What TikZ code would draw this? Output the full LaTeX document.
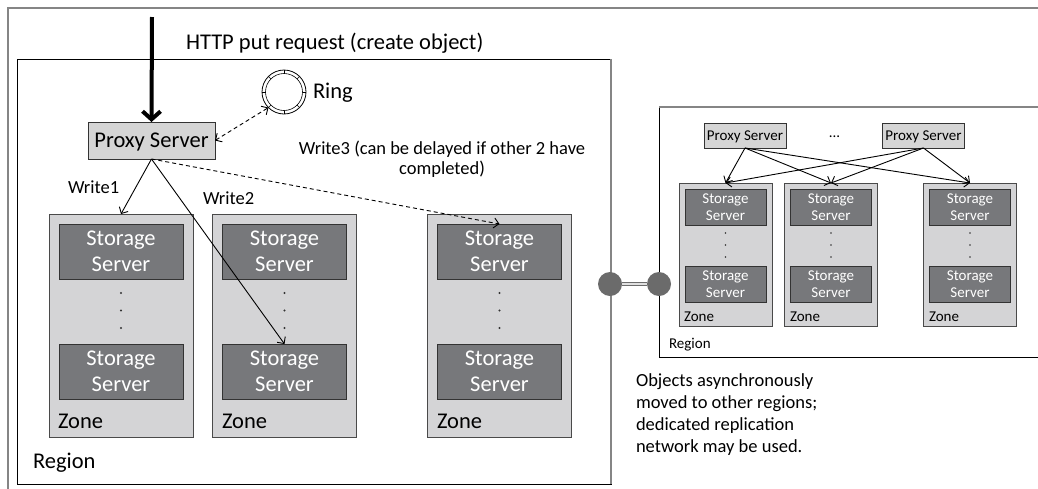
\documentclass[tikz,border=0pt]{standalone}
\usepackage{fontspec}
\setmainfont{Carlito}
\usetikzlibrary{arrows.meta,calc}
\definecolor{zonefill}{HTML}{D4D4D6}
\definecolor{zoneedge}{HTML}{4A4A4A}
\definecolor{storefill}{HTML}{77787B}
\definecolor{storeedge}{HTML}{333333}
\definecolor{proxyfill}{HTML}{D5D5D5}
\definecolor{framegray}{HTML}{858585}
\definecolor{linkgray}{HTML}{6B6B6B}
\newcommand{\bigtxt}{\fontsize{22.5}{26}\selectfont}
\newcommand{\midtxt}{\fontsize{18.5}{19.5}\selectfont}
\newcommand{\objtxt}{\fontsize{18.5}{22}\selectfont}
\newcommand{\smalltxt}{\fontsize{15}{17}\selectfont}
\tikzset{
  every node/.style={inner sep=0pt, outer sep=0pt},
  zonebox/.style={draw=zoneedge, fill=zonefill, line width=1pt},
  storebig/.style={draw=storeedge, fill=storefill, line width=1pt, text=white, align=center,
    font=\bigtxt, minimum width=124pt, minimum height=55pt},
  storesmall/.style={draw=storeedge, fill=storefill, line width=1pt, text=white, align=center,
    font=\smalltxt, minimum width=81pt, minimum height=36pt},
  proxybig/.style={draw=storeedge, fill=proxyfill, line width=1pt, font=\bigtxt,
    minimum width=127pt, minimum height=37pt, text depth=0pt},
  proxysmall/.style={draw=storeedge, fill=proxyfill, line width=1pt, font=\smalltxt,
    minimum width=82pt, minimum height=25pt, text depth=0pt},
  thinarrow/.style={line width=0.9pt, -{Straight Barb[length=5pt,width=10pt]}},
  dasharrow/.style={line width=0.9pt, dash pattern=on 4pt off 3pt},
  linkdot/.style={circle, fill=linkgray, minimum size=24pt},
}
\begin{document}
\begin{tikzpicture}[x=1pt,y=-1pt]
\useasboundingbox (0,0) rectangle (1038,488);
\clip (0,0) rectangle (1038,488);
\fill[white] (0,0) rectangle (1038,488);

% outer frame
\draw[framegray, line width=2pt] (8,500) -- (8,8) -- (1050,8);

% left region
\node[draw=black, line width=0.9pt, minimum width=594pt, minimum height=425pt] (regA) at (314,271.5) {};
\draw[framegray, line width=1.8pt] (regA.north east) -- (regA.south east);
\node[font=\bigtxt, anchor=base west] (regAlbl) at (33,468) {Region};

% right region
\node[draw=black, line width=0.9pt, minimum width=411pt, minimum height=250pt] (regB) at (864.5,232) {};
\draw[framegray, line width=1.8pt] (regB.north west) -- (regB.north east);
\node[font=\smalltxt, anchor=base west] (regBlbl) at (669,348.3) {Region};

% HTTP request
\node[font=\bigtxt, anchor=base west] (httplbl) at (186,49.5) {HTTP put request (create object)};
\node[proxybig] (proxy) at (151.5,140.5) {Proxy Server};
\coordinate (httpstart) at (152,17);
\draw[line width=4pt, -{Straight Barb[length=8pt,width=18pt]}] (httpstart) -- (proxy.north);

% ring
\node[circle, draw, line width=0.8pt, minimum size=44pt] (ring) at (284,92) {};
\draw[line width=0.6pt] (ring.center) circle (18.5pt);
\foreach \a in {0,45,...,315}
  \draw[line width=0.5pt] ($(ring.center)+(\a:18.5pt)$) -- ($(ring.center)+(\a:22pt)$);
\node[font=\bigtxt, anchor=base west] (ringlbl) at (313,98) {Ring};
\draw[dasharrow, {Straight Barb[length=5pt,width=10pt]}-{Straight Barb[length=5pt,width=10pt]}] (proxy.east) -- (ring.-135);

% left zones
\foreach \n/\x in {1/121,2/284.5,3/499.5}{
  \node[zonebox, minimum width=144pt, minimum height=223pt] (zA\n) at (\x,325.5) {};
  \node[storebig] (sA\n t) at (\x,251.5) {Storage\\Server};
  \node[storebig] (sA\n b) at (\x,371.5) {Storage\\Server};
  \foreach \y in {293,310.5,328} \fill[black!80] (\x,\y) circle (1.1pt);
}
\node[font=\bigtxt, anchor=base west] (zlA1) at (58,428) {Zone};
\node[font=\bigtxt, anchor=base west] (zlA2) at (222,428) {Zone};
\node[font=\bigtxt, anchor=base west] (zlA3) at (437,428) {Zone};

% writes
\draw[thinarrow] (proxy.south) -- (zA1.north);
\draw[thinarrow] (proxy.south) -- (sA2b.north);
\draw[dasharrow, -{Straight Barb[length=5pt,width=10pt]}] (proxy.south) -- (sA3t.north);
\node[font=\midtxt, anchor=base west] (w1) at (68,193.3) {Write1};
\node[font=\midtxt, anchor=base west] (w2) at (203,204) {Write2};
\node[font=\midtxt, align=center] (w3) at (442,159) {Write3 (can be delayed if other 2 have\\completed)};

% link between regions
\node[linkdot] (ca) at (610,284) {};
\node[linkdot] (cb) at (659,284) {};
\draw[draw=linkgray, double=black!12, double distance=2.2pt, line width=1.2pt] (ca) -- (cb);

% right region contents
\node[proxysmall] (p1) at (745,135.5) {Proxy Server};
\node[proxysmall] (p2) at (923.5,135.5) {Proxy Server};
\node[font=\smalltxt, anchor=base] (pdots) at (834.5,137) {...};
\foreach \n/\x in {1/725.5,2/831,3/970}{
  \node[zonebox, minimum width=93pt, minimum height=143pt] (zB\n) at (\x,254.5) {};
  \node[storesmall] (sB\n t) at (\x,207) {Storage\\Server};
  \node[storesmall] (sB\n b) at (\x,284.5) {Storage\\Server};
  \foreach \y in {233,245,257} \fill[black!80] (\x,\y) circle (0.8pt);
}
\node[font=\smalltxt, anchor=base west] (zlB1) at (684,321) {Zone};
\node[font=\smalltxt, anchor=base west] (zlB2) at (790,321) {Zone};
\node[font=\smalltxt, anchor=base west] (zlB3) at (929,321) {Zone};
\foreach \p in {p1,p2}
  \foreach \z in {zB1,zB2,zB3}
    \draw[thinarrow] (\p.south) -- (\z.north);

% note
\node[font=\objtxt, align=left, anchor=north west] (note) at (636,374)
  {Objects asynchronously\\moved to other regions;\\dedicated replication\\network may be used.};
\end{tikzpicture}
\end{document}
